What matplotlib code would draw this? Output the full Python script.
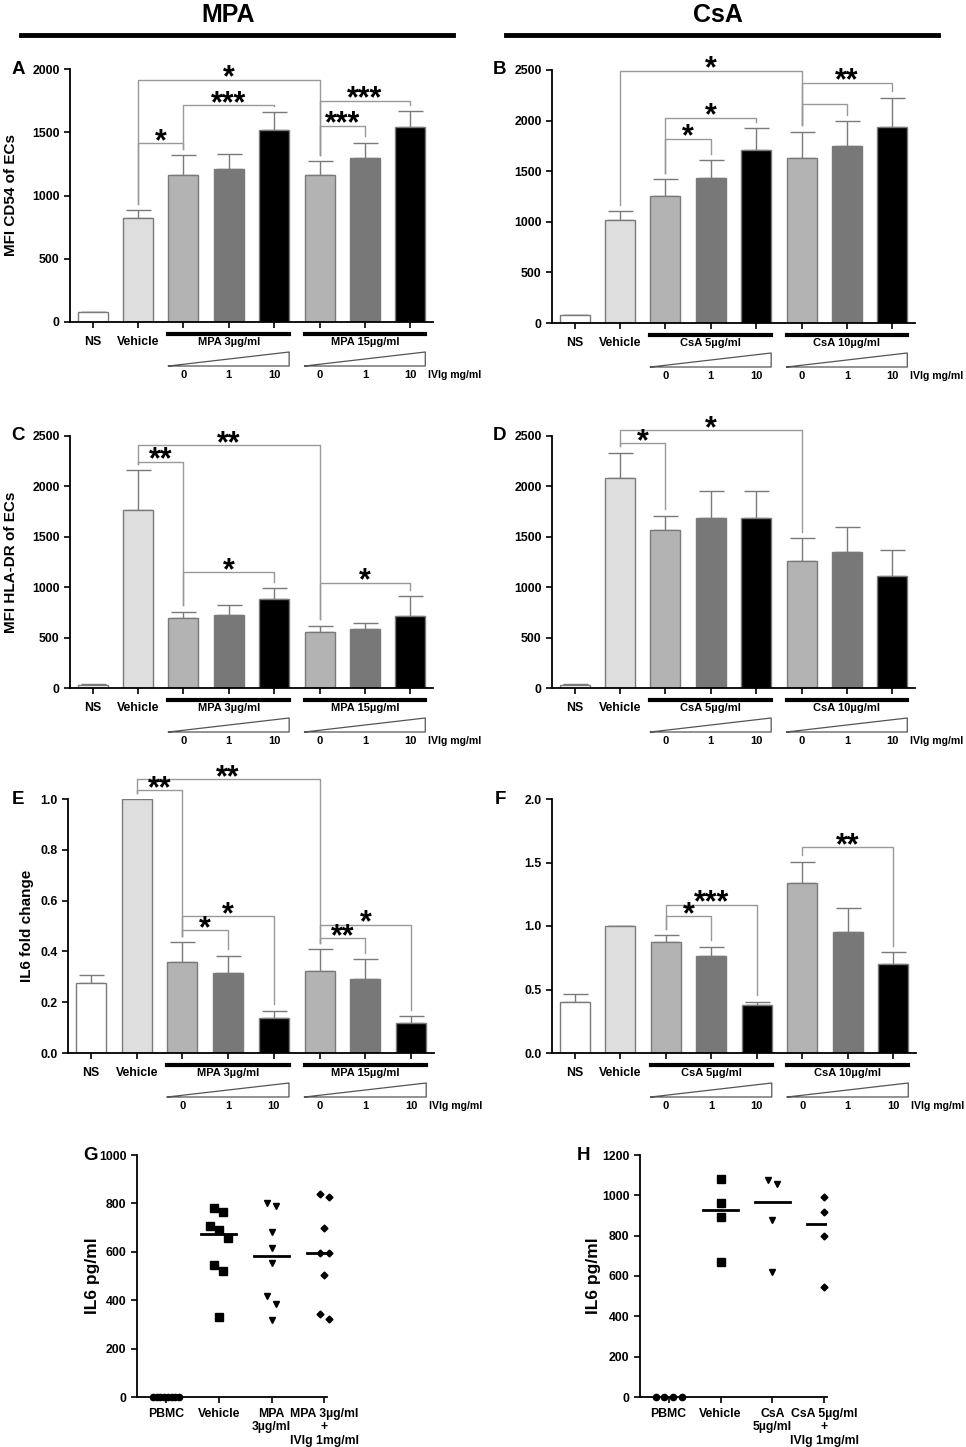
import matplotlib.pyplot as plt
import numpy as np
from matplotlib import transforms
from matplotlib.lines import Line2D

plt.rcParams['font.family'] = ['Liberation Sans', 'DejaVu Sans']
plt.rcParams['font.weight'] = 'bold'
plt.rcParams['axes.labelweight'] = 'bold'

# ---- data ----
bar_colors = ['white', '#dedede', '#b3b3b3', '#787878', 'black', '#b3b3b3', '#787878', 'black']
first_labels = ['NS', 'Vehicle']
doses = ['0', '1', '10']

cd54_mpa = [79, 826, 1166, 1211, 1518, 1161, 1295, 1539]
cd54_mpa_err = [3, 58, 152, 121, 140, 113, 123, 127]
cd54_csa = [76, 1016, 1253, 1435, 1708, 1629, 1751, 1939]
cd54_csa_err = [3, 86, 165, 174, 215, 261, 241, 287]
hla_mpa = [33, 1770, 691, 724, 882, 556, 582, 714]
hla_mpa_err = [2, 391, 66, 98, 111, 62, 63, 197]
hla_csa = [33, 2082, 1572, 1691, 1684, 1260, 1345, 1115]
hla_csa_err = [2, 254, 139, 266, 267, 224, 250, 250]
il6_mpa = [0.277, 1.0, 0.36, 0.314, 0.136, 0.324, 0.291, 0.117]
il6_mpa_err = [0.029, 0, 0.077, 0.069, 0.031, 0.085, 0.079, 0.029]
il6_csa = [0.40, 1.0, 0.874, 0.766, 0.378, 1.341, 0.953, 0.701]
il6_csa_err = [0.067, 0, 0.055, 0.071, 0.026, 0.166, 0.186, 0.092]

# significance brackets: (bar i, bar j, height, stars)
br_a = [(1, 5, 1916, '*'), (1, 2, 1416, '*'), (2, 4, 1716, '***'), (5, 7, 1750, '***'), (5, 6, 1553, '***')]
br_b = [(1, 5, 2495, '*'), (5, 7, 2375, '**'), (5, 6, 2167, ''), (2, 4, 2028, '*'), (2, 3, 1821, '*')]
br_c = [(1, 5, 2411, '**'), (1, 2, 2247, '**'), (2, 4, 1151, '*'), (5, 7, 1046, '*')]
br_d = [(1, 5, 2559, '*'), (1, 2, 2428, '*')]
br_e = [(1, 5, 1.079, '**'), (1, 2, 1.034, '**'), (2, 4, 0.538, '*'), (2, 3, 0.484, '*'),
        (5, 7, 0.505, '*'), (5, 6, 0.451, '**')]
br_f = [(2, 4, 1.168, '***'), (2, 3, 1.076, '*'), (5, 7, 1.62, '**')]

g_cats = ['PBMC', 'Vehicle', 'MPA\n3\u00b5g/ml', 'MPA 3\u00b5g/ml\n+\nIVIg 1mg/ml']
g_pbmc = [0, 0, 0, 0, 0, 0, 0, 0]
g_vehicle = [782, 766, 706, 690, 659, 545, 519, 331]
g_mpa = [800, 789, 680, 614, 554, 418, 383, 317]
g_mpa_ivig = [839, 826, 699, 597, 597, 506, 341, 323]

h_cats = ['PBMC', 'Vehicle', 'CsA\n5\u00b5g/ml', 'CsA 5\u00b5g/ml\n+\nIVIg 1mg/ml']
h_pbmc = [0, 0, 0, 0]
h_vehicle = [1079, 964, 891, 667]
h_csa = [1076, 1055, 877, 619]
h_csa_ivig = [990, 916, 798, 543]

FW, FH = 966, 1447
fig = plt.figure(figsize=(FW / 100, FH / 100), dpi=100)


def new_ax(left, right, top, bottom):
    return fig.add_axes([left / FW, 1 - bottom / FH, (right - left) / FW, (bottom - top) / FH])


def style(ax, ymax, step, fmt='{:.0f}'):
    for s in ['top', 'right']:
        ax.spines[s].set_visible(False)
    for s in ['left', 'bottom']:
        ax.spines[s].set_linewidth(1.3)
    ax.set_ylim(0, ymax)
    yt = np.arange(0, ymax + step / 2, step)
    ax.set_yticks(yt)
    ax.set_yticklabels([fmt.format(v) for v in yt])
    ax.tick_params(direction='out', length=4, width=1.2, labelsize=8.8)


def bar_panel(ax, vals, errs, brackets, ymax, step, groups, fmt='{:.0f}'):
    x = np.arange(len(vals))
    ax.bar(x, vals, width=0.66, color=bar_colors, edgecolor='#7a7a7a', linewidth=1, zorder=2)
    ax.errorbar(x, vals, yerr=[np.zeros(len(vals)), errs], fmt='none', ecolor='#7a7a7a',
                elinewidth=1, capsize=9, capthick=1, zorder=1)
    style(ax, ymax, step, fmt)
    ax.set_xlim(-0.5, 7.5)
    ax.set_xticks(x)
    ax.set_xticklabels(first_labels + [''] * 6)
    ax.tick_params(axis='x', pad=6)
    tops = np.array(vals) + np.array(errs)
    gap = 0.025 * ymax
    for i, j, h, lab in brackets:
        ax.plot([i, i, j, j], [tops[i] + gap, h, h, tops[j] + gap], color='#999999', lw=1,
                clip_on=False, zorder=3)
        if lab:
            ax.annotate(lab, xy=((i + j) / 2, h), xytext=(0, -5), textcoords='offset points',
                        ha='center', va='baseline', fontsize=22, annotation_clip=False)
    # treatment groups under the axis
    tr = transforms.blended_transform_factory(ax.transData, ax.transAxes)
    ah = ax.get_position().height * FH
    for k, name in enumerate(groups):
        i0 = 2 + 3 * k
        xl, xr = i0 - 0.33, i0 + 2 + 0.33
        ax.plot([xl, xr], [-12 / ah, -12 / ah], transform=tr, color='black', lw=3, clip_on=False)
        ax.text((xl + xr) / 2, -20 / ah, name, transform=tr, ha='center', va='center', fontsize=8)
        ax.plot([xl, xr, xr, xl], [-44 / ah, -30 / ah, -44 / ah, -44 / ah], transform=tr,
                color='#555555', lw=0.9, clip_on=False)
        for d, lab in enumerate(doses):
            ax.text(i0 + d, -53 / ah, lab, transform=tr, ha='center', va='center', fontsize=8)
    ax.text(7.38, -53 / ah, 'IVIg mg/ml', transform=tr, ha='left', va='center', fontsize=7.6)


def spread(ax, vals, step_px=9, max_px=26, thresh_px=9):
    pos = ax.get_position()
    ypx = pos.height * FH / (ax.get_ylim()[1] - ax.get_ylim()[0])
    xpx = pos.width * FW / (ax.get_xlim()[1] - ax.get_xlim()[0])
    vals = np.asarray(vals, dtype=float)
    order = np.argsort(-vals)
    offs = np.zeros(len(vals))
    clusters = [[order[0]]]
    for idx in order[1:]:
        if (vals[clusters[-1][-1]] - vals[idx]) * ypx < thresh_px:
            clusters[-1].append(idx)
        else:
            clusters.append([idx])
    for c in clusters:
        n = len(c)
        if n > 1:
            st = min(step_px, max_px / (n - 1))
            for m, idx in enumerate(c):
                offs[idx] = (m - (n - 1) / 2) * st / xpx
    return offs


def dot_panel(ax, groups, cats, ymax, step, ylabel):
    style(ax, ymax, step)
    ax.set_xlim(-0.55, 3.05)
    ax.set_xticks(range(4))
    ax.set_xticklabels(cats, fontsize=8.8, linespacing=1.15)
    ax.tick_params(axis='x', pad=4)
    markers = [('o', 4.5), ('s', 5.5), ('v', 5), ('D', 3.5)]
    for k, vals in enumerate(groups):
        offs = spread(ax, vals)
        mk, ms = markers[k]
        ax.plot(k + offs, vals, linestyle='none', marker=mk, markersize=ms, color='black',
                clip_on=False, zorder=3)
        if k > 0:
            med = np.median(vals)
            ax.plot([k - 0.33, k + 0.33], [med, med], color='black', lw=2)
    ax.set_ylabel(ylabel, fontsize=12.5)


ax_a = new_ax(70, 433, 69, 322)
bar_panel(ax_a, cd54_mpa, cd54_mpa_err, br_a, 2000, 500, ['MPA 3\u00b5g/ml', 'MPA 15\u00b5g/ml'])
ax_a.set_ylabel('MFI CD54 of ECs', fontsize=11)
ax_a.yaxis.set_label_coords(-0.142, 0.5)

ax_b = new_ax(552, 915, 70, 323)
bar_panel(ax_b, cd54_csa, cd54_csa_err, br_b, 2500, 500, ['CsA 5\u00b5g/ml', 'CsA 10\u00b5g/ml'])

ax_c = new_ax(70, 433, 436, 688)
bar_panel(ax_c, hla_mpa, hla_mpa_err, br_c, 2500, 500, ['MPA 3\u00b5g/ml', 'MPA 15\u00b5g/ml'])
ax_c.set_ylabel('MFI HLA-DR of ECs', fontsize=11)
ax_c.yaxis.set_label_coords(-0.142, 0.5)

ax_d = new_ax(552, 915, 436, 688)
bar_panel(ax_d, hla_csa, hla_csa_err, br_d, 2500, 500, ['CsA 5\u00b5g/ml', 'CsA 10\u00b5g/ml'])

ax_e = new_ax(68, 434, 799, 1053)
bar_panel(ax_e, il6_mpa, il6_mpa_err, br_e, 1.0, 0.2, ['MPA 3\u00b5g/ml', 'MPA 15\u00b5g/ml'], '{:.1f}')
ax_e.set_ylabel('IL6 fold change', fontsize=11)
ax_e.yaxis.set_label_coords(-0.093, 0.5)

ax_f = new_ax(552, 916, 799, 1053)
bar_panel(ax_f, il6_csa, il6_csa_err, br_f, 2.0, 0.5, ['CsA 5\u00b5g/ml', 'CsA 10\u00b5g/ml'], '{:.1f}')

ax_g = new_ax(137, 327, 1155, 1397)
dot_panel(ax_g, [g_pbmc, g_vehicle, g_mpa, g_mpa_ivig], g_cats, 1000, 200, 'IL6 pg/ml')
ax_g.yaxis.set_label_coords(-0.195, 0.5)

ax_h = new_ax(640, 827, 1155, 1397)
dot_panel(ax_h, [h_pbmc, h_vehicle, h_csa, h_csa_ivig], h_cats, 1200, 200, 'IL6 pg/ml')
ax_h.yaxis.set_label_coords(-0.21, 0.5)

# panel letters
for lab, px, py in [('A', 18, 69), ('B', 500, 69), ('C', 18, 436), ('D', 500, 436),
                    ('E', 18, 800), ('F', 500, 800), ('G', 91, 1155), ('H', 583, 1155)]:
    fig.text(px / FW, 1 - py / FH, lab, fontsize=13.5, ha='center', va='center')

# column headings
for lab, cx, x0, x1 in [('MPA', 228, 21, 453), ('CsA', 718, 506, 938)]:
    fig.text(cx / FW, 1 - 15 / FH, lab, fontsize=18, ha='center', va='center')
    fig.add_artist(Line2D([x0 / FW, x1 / FW], [1 - 35 / FH, 1 - 35 / FH], color='black', lw=3.5))

fig.savefig('out.png', dpi=100)
